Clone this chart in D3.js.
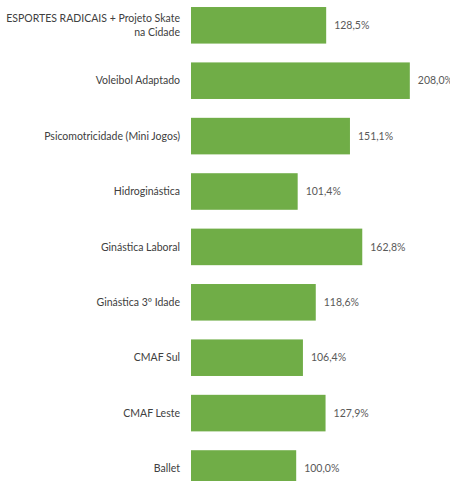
<!DOCTYPE html>
<html>
<head>
<meta charset="utf-8">
<script src="https://cdn.jsdelivr.net/npm/d3@7"></script>
<style>
  body { margin: 0; background: #fff; }
  svg { display: block; }
</style>
</head>
<body>
<svg></svg>
<script>
// categories (line breaks as in the original label)
var categories = [
  "ESPORTES RADICAIS + Projeto Skate\nna Cidade",
  "Voleibol Adaptado",
  "Psicomotricidade (Mini Jogos)",
  "Hidroginástica",
  "Ginástica Laboral",
  "Ginástica 3º Idade",
  "CMAF Sul",
  "CMAF Leste",
  "Ballet"
];
var values = [128.5, 208.0, 151.1, 101.4, 162.8, 118.6, 106.4, 127.9, 100.0];

var W = 450, H = 481;
var left = 191;

var svg = d3.select("svg").attr("width", W).attr("height", H);

var x = d3.scaleLinear().domain([0, 100]).range([left, left + 105.2]);
var y = d3.scaleBand().domain(categories).range([-2.4, -2.4 + 9 * 55.4])
  .paddingInner(0.34).paddingOuter(0.17);

var fmt = function(v) { return d3.format(".1f")(v).replace(".", ",") + "%"; };

var rows = svg.selectAll(".row")
  .data(categories.map(function(c, i) { return {cat: c, v: values[i]}; }))
  .enter().append("g").attr("class", "row");

rows.append("rect")
  .attr("x", x(0))
  .attr("y", function(d) { return y(d.cat); })
  .attr("width", function(d) { return x(d.v) - x(0); })
  .attr("height", y.bandwidth())
  .attr("fill", "#70ad47");

rows.append("text")
  .attr("x", function(d) { return x(d.v) + 8; })
  .attr("y", function(d) { return y(d.cat) + y.bandwidth() / 2; })
  .attr("dy", "0.36em")
  .attr("font-family", "Lato, sans-serif")
  .attr("font-size", "10.5px")
  .attr("fill", "#595959")
  .text(function(d) { return fmt(d.v); });

var lab = rows.append("text")
  .attr("text-anchor", "end")
  .attr("font-family", "Lato, sans-serif")
  .attr("font-size", "10.5px")
  .attr("fill", "#404040");

lab.each(function(d) {
  var lines = d.cat.split("\n");
  var cy = y(d.cat) + y.bandwidth() / 2;
  var lh = 14;
  var t = d3.select(this);
  lines.forEach(function(l, k) {
    t.append("tspan")
      .attr("x", 180)
      .attr("y", cy + (k - (lines.length - 1) / 2) * lh)
      .attr("dy", "0.36em")
      .text(l);
  });
});
</script>
</body>
</html>
